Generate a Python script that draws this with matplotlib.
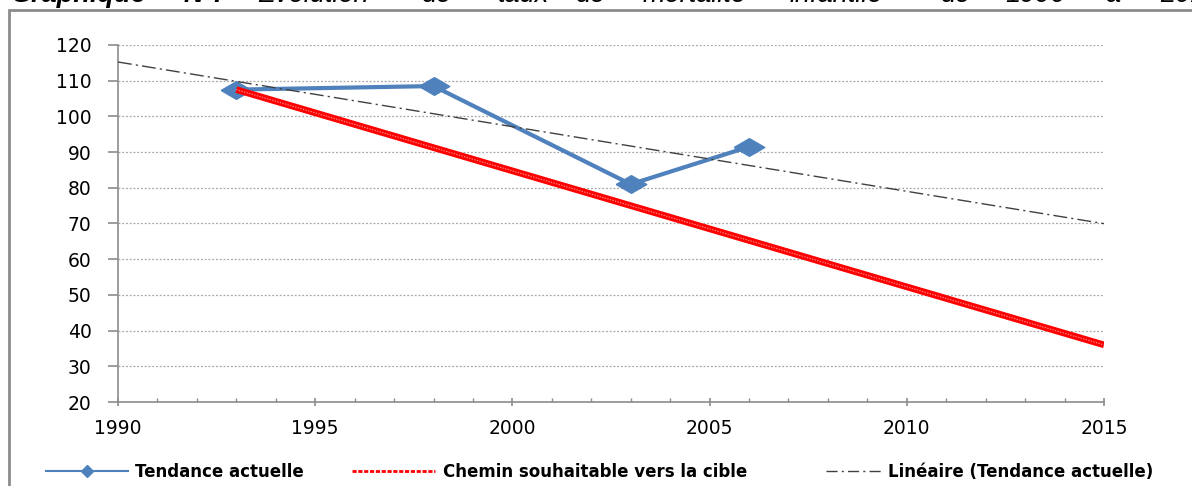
import numpy as np
import matplotlib
matplotlib.use("Agg")
import matplotlib.pyplot as plt
from matplotlib.lines import Line2D
from matplotlib.patches import Rectangle
from matplotlib.ticker import MultipleLocator

# data
years_actual = [1993, 1998, 2003, 2006]
rate_actual = [107.5, 108.5, 81.0, 91.5]

years_target = [1993, 2015]
rate_target = [107.5, 36.0]

trend_years = [1990, 2015]

label_actual = "Tendance actuelle"
label_target = "Chemin souhaitable vers la cible"
label_trend = "Linéaire (Tendance actuelle)"

title_words = ["Graphique", "N°:", "Evolution", "de", "taux", "de", "mortalité",
               "infantile", "de", "1990", "à", "2015"]

""" linear trend of the actual series """
coef = np.polyfit(years_actual, rate_actual, 1)
trend_vals = np.polyval(coef, trend_years)

W, H = 1192, 486
fig = plt.figure(figsize=(W / 100, H / 100), dpi=100)
ax = fig.add_axes([118 / W, 1 - 402 / H, (1104 - 118) / W, (402 - 45) / H])

blue = "#4F81BD"
diamond = [(-1, 0), (0, 0.58), (1, 0), (0, -0.58), (-1, 0)]

ax.plot(years_actual, rate_actual, color=blue, lw=3, marker=diamond,
        markersize=22, zorder=3)
ax.plot(years_target, rate_target, color="#FF0000", lw=4.8,
        solid_capstyle="butt", zorder=4)
ax.plot(years_target, rate_target, color="#FF9090", lw=0.8,
        dashes=(1.2, 1.2), zorder=4)
ax.plot(trend_years, trend_vals, color="#404040", lw=1,
        dashes=(10, 3, 1.5, 3), zorder=5)

""" axes styling """
ax.set_xlim(1990, 2015)
ax.set_ylim(20, 120)
ax.xaxis.set_major_locator(MultipleLocator(5))
ax.xaxis.set_minor_locator(MultipleLocator(1))
ax.yaxis.set_major_locator(MultipleLocator(10))
for s in ["top", "right"]:
    ax.spines[s].set_visible(False)
for s in ["left", "bottom"]:
    ax.spines[s].set_color("#8C8C8C")
    ax.spines[s].set_linewidth(1.2)
ax.tick_params(axis="x", which="major", direction="inout", length=6,
               color="#8C8C8C", width=1.2, pad=9, labelsize=13.5)
ax.tick_params(axis="x", which="minor", direction="in", length=3,
               color="#8C8C8C", width=1)
ax.tick_params(axis="y", which="major", direction="out", length=7,
               color="#8C8C8C", width=1.2, pad=12, labelsize=13.5)
ax.yaxis.grid(True, color="#A6A6A6", linestyle=(0, (1.5, 1.5)), lw=0.9)
ax.set_axisbelow(True)

""" legends, one per entry """
h_actual = Line2D([], [], color=blue, lw=1.5, marker="D", markersize=6)
h_target = Line2D([], [], color="#FF0000", lw=2, dashes=(1.5, 0.6))
h_trend = Line2D([], [], color="#404040", lw=1, dashes=(8, 3, 1.5, 3))
for h, lab, x0, hl in [(h_actual, label_actual, 46, 4.9),
                       (h_target, label_target, 352, 5.0),
                       (h_trend, label_trend, 826, 3.3)]:
    lg = fig.legend([h], [lab], loc="center left",
                    bbox_to_anchor=(x0 / W, 14 / H), frameon=False,
                    handlelength=hl, handletextpad=0.45, borderaxespad=0,
                    borderpad=0,
                    prop={"family": "DejaVu Sans", "weight": "bold", "size": 12})

""" outer frame """
fig.patches.append(Rectangle((9 / W, -0.1), 1.2, 1.1 - 10 / H,
                             transform=fig.transFigure, fill=False,
                             edgecolor="#8C8C8C", lw=2))

""" title, cut by the top edge as in the source """
word_x = [11, 184, 257, 421, 498, 575, 643, 790, 940, 1005, 1105, 1160]
for i, (w, x) in enumerate(zip(title_words, word_x)):
    fig.text(x / W, 1 - 1.5 / H, w, ha="left", va="baseline",
             fontsize=19.5, family="Liberation Sans", style="italic",
             weight="bold" if i < 2 else "normal")

fig.savefig("out.png", dpi=100)
